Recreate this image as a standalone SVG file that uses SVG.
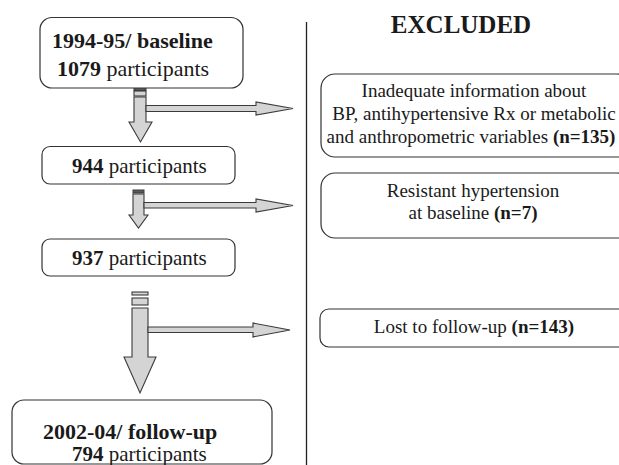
<svg xmlns="http://www.w3.org/2000/svg" width="619" height="465" viewBox="0 0 619 465" font-family="'Liberation Serif', 'Times New Roman', serif">
<style>
.box{fill:#fff;stroke:#333;stroke-width:1.2}
text{font-family:'Liberation Serif','Times New Roman',serif;fill:#1a1a1a}
.b{font-weight:bold}
.arr{fill:#d4d4d4;stroke:#3a3a3a;stroke-width:1.1;stroke-linejoin:miter}
.dk{fill:#5a5a5a;stroke:#3a3a3a;stroke-width:1}
</style>
<rect width="619" height="465" fill="#fff"/>
<line x1="306.5" y1="22" x2="306.5" y2="465" stroke="#222" stroke-width="1.3"/>
<text class="b" x="461" y="33" font-size="25" text-anchor="middle">EXCLUDED</text>

<g id="connectors">
  <g id="arrow1">
    <rect class="dk" x="134" y="87.5" width="12" height="3"/>
    <rect class="arr" x="134" y="91" width="12" height="5"/>
    <polygon class="arr" points="134,97 146,97 146,122 152,122 140.5,142 129,122 134,122"/>
    <polygon class="arr" points="146,105.5 256,105.5 256,102 293,108.5 256,115 256,111.5 146,111.5"/>
  </g>
  <g id="arrow2">
    <rect class="dk" x="133" y="190" width="11" height="3"/>
    <polygon class="arr" points="133,194 144,194 144,215 148,215 138.5,228 129,215 133,215"/>
    <polygon class="arr" points="144,202.5 256,202.5 256,199 293,205.5 256,212 256,208 144,208"/>
  </g>
  <g id="arrow3">
    <rect class="arr" x="132" y="292" width="16" height="3"/>
    <rect class="arr" x="132" y="298" width="16" height="7"/>
    <polygon class="arr" points="132,308 148,308 148,357 156,357 140,393 124,357 132,357"/>
    <polygon class="arr" points="148,327 253,327 253,323 290,330 253,337 253,332.5 148,332.5"/>
  </g>
</g>

<g id="node-baseline">
  <rect class="box" x="40" y="17.5" width="203" height="70.5" rx="12"/>
  <text class="b" x="52" y="48" font-size="22">1994-95/ baseline</text>
  <text x="57" y="76" font-size="22"><tspan class="b">1079</tspan> participants</text>
</g>
<g id="node-944">
  <rect class="box" x="42" y="146.5" width="193" height="37.5" rx="8"/>
  <text x="72" y="173" font-size="21"><tspan class="b">944</tspan> participants</text>
</g>
<g id="node-937">
  <rect class="box" x="42" y="239" width="193" height="37" rx="8"/>
  <text x="72" y="265" font-size="21"><tspan class="b">937</tspan> participants</text>
</g>
<g id="node-followup">
  <rect class="box" x="12" y="400" width="260" height="64" rx="12"/>
  <text class="b" x="43" y="439" font-size="22">2002-04/ follow-up</text>
  <text x="72" y="461" font-size="21"><tspan class="b">794</tspan> participants</text>
</g>

<g id="node-inadequate">
  <rect class="box" x="321" y="74" width="310" height="83" rx="14"/>
  <text x="474" y="97" font-size="19" text-anchor="middle">Inadequate information about</text>
  <text x="474" y="120" font-size="19" text-anchor="middle">BP, antihypertensive Rx or metabolic</text>
  <text x="471" y="143" font-size="19" text-anchor="middle">and anthropometric variables <tspan class="b">(n=135)</tspan></text>
</g>
<g id="node-resistant">
  <rect class="box" x="321" y="173" width="310" height="65" rx="14"/>
  <text x="473" y="197" font-size="19" text-anchor="middle">Resistant hypertension</text>
  <text x="473" y="219" font-size="19" text-anchor="middle">at baseline <tspan class="b">(n=7)</tspan></text>
</g>
<g id="node-lost">
  <rect class="box" x="320" y="309" width="311" height="38" rx="9"/>
  <text x="474" y="333" font-size="19" text-anchor="middle">Lost to follow-up <tspan class="b">(n=143)</tspan></text>
</g>
</svg>
